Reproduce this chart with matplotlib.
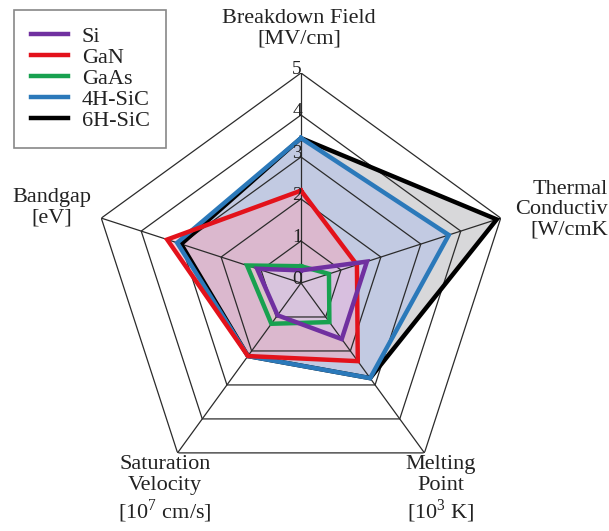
import numpy as np
import matplotlib
matplotlib.use("Agg")
from matplotlib import pyplot as plt
from matplotlib import transforms

plt.rcParams["font.family"] = ["Liberation Serif", "DejaVu Serif"]
plt.rcParams["mathtext.fontset"] = "custom"
plt.rcParams["mathtext.rm"] = "Liberation Serif"

# axes, clockwise from the top
axis_names = ["Breakdown Field", "Thermal Conductivity", "Melting Point",
              "Saturation Velocity", "Bandgap"]
ring_levels = [1, 2, 3, 4, 5]
tick_labels = ["0", "1", "2", "3", "4", "5"]

# values (same order as axis_names)
si = [0.3, 1.65, 1.65, 0.95, 1.1]
gan = [2.2, 1.4, 2.3, 2.15, 3.35]
gaas = [0.4, 0.7, 1.15, 1.2, 1.35]
sic_4h = [3.45, 3.7, 2.8, 2.15, 3.1]
sic_6h = [3.45, 4.9, 2.8, 2.15, 3.0]

series_names = ["Si", "GaN", "GaAs", "4H-SiC", "6H-SiC"]
series_values = [si, gan, gaas, sic_4h, sic_6h]
colors = ["#7030a0", "#e3121b", "#18a150", "#2b79ba", "#000000"]
# light tints used for the filled areas
fill_colors = ["#d6c6f0", "#f4a8bc", "#c8f0d6", "#a9b9ec", "#b8b8bc"]
fill_alpha = [0.5, 0.5, 0.6, 0.45, 0.55]

theta = np.linspace(0, 2 * np.pi, len(axis_names), endpoint=False)
theta_closed = np.append(theta, theta[0])

fig = plt.figure(figsize=(6.09, 5.31), dpi=100)
# center of the pentagon at (301, 283) px, radius 5 -> 210 px
ax = fig.add_axes([91 / 609, 38 / 531, 420 / 609, 420 / 531], projection="polar")
ax.set_theta_offset(np.pi / 2)
ax.set_theta_direction(-1)
ax.set_ylim(0, 5)
ax.axis("off")

# pentagon grid
for lev in ring_levels:
    ax.plot(theta_closed, [lev] * len(theta_closed), color="#2b2b2b", lw=0.9, zorder=4)
for t in theta:
    ax.plot([t, t], [0, 5], color="#2b2b2b", lw=0.9, zorder=4)

# draw back to front so the small ones sit on top
handles = {}
series = list(zip(series_names, series_values, colors, fill_colors, fill_alpha))
for i, (name, vals, col, fcol, a) in enumerate(reversed(series)):
    v = np.append(vals, vals[0])
    ax.fill(theta_closed, v, color=fcol, alpha=a, lw=0, zorder=2 + i * 0.01)
    ln, = ax.plot(theta_closed, v, color=col, lw=3.2, solid_joinstyle="miter",
                  zorder=5 + i * 0.01, label=name)
    handles[name] = ln

# radial tick labels along the top axis
off = transforms.offset_copy(ax.transData, fig=fig, x=-4, y=4, units="dots")
for k, lab in enumerate(tick_labels):
    ax.text(0, k, lab, transform=off, ha="center", va="center", fontsize=14,
            color="#222222", zorder=6)

# axis titles
lab_kw = dict(va="center", fontsize=16, linespacing=1.1, color="#222222")
fig.text(299 / 609, 1 - 29 / 531, "Breakdown Field\n[MV/cm]", ha="center", **lab_kw)
fig.text(608 / 609, 1 - 210 / 531, "Thermal\nConductiv\n[W/cmK", ha="right",
         multialignment="right", **lab_kw)
fig.text(441 / 609, 1 - 490 / 531, "Melting\nPoint\n[10$^{\\mathrm{3}}$ K]", ha="center", **lab_kw)
fig.text(165 / 609, 1 - 490 / 531, "Saturation\nVelocity\n[10$^{\\mathrm{7}}$ cm/s]",
         ha="center", **lab_kw)
fig.text(52 / 609, 1 - 208 / 531, "Bandgap\n[eV]", ha="center", **lab_kw)

leg = fig.legend([handles[n] for n in series_names], series_names,
                 loc="upper left", bbox_to_anchor=(14 / 609, 1 - 10 / 531),
                 bbox_transform=fig.transFigure, borderaxespad=0, fontsize=16,
                 handlelength=1.7, handletextpad=0.6, labelspacing=0.02,
                 borderpad=0.75, fancybox=False, framealpha=1)
leg.get_frame().set_edgecolor("#888888")
leg.get_frame().set_linewidth(1.2)
for t in leg.get_texts():
    t.set_color("#222222")

fig.savefig("out.png", dpi=100)
